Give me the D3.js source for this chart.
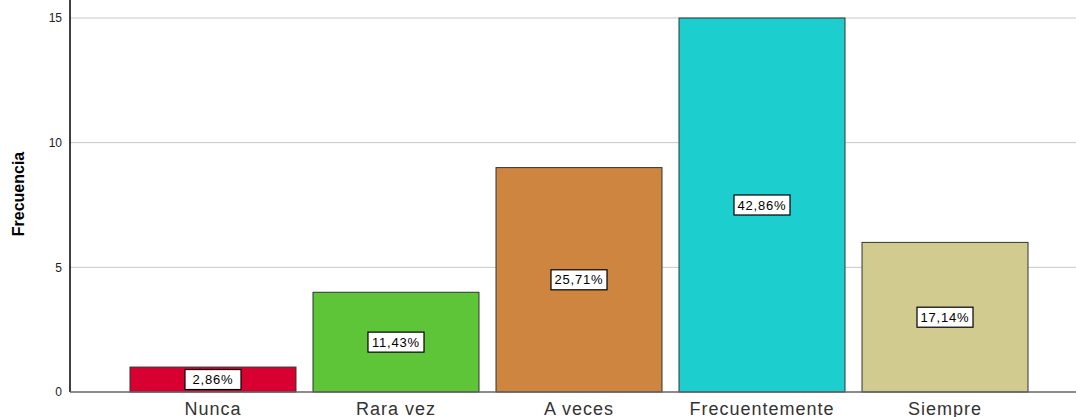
<!DOCTYPE html>
<html>
<head>
<meta charset="utf-8">
<script src="https://cdn.jsdelivr.net/npm/d3@7"></script>
<style>
  body { margin: 0; background: #fff; }
  text { font-family: "Liberation Sans", Arial, sans-serif; }
</style>
</head>
<body>
<div id="chart"></div>
<script>
// datos
const categorias = ["Nunca", "Rara vez", "A veces", "Frecuentemente", "Siempre"];
const frecuencias = [1, 4, 9, 15, 6];
const colores = ["#d70030", "#5ec438", "#cd853f", "#1dcece", "#d1cb8f"];
const yTicks = [0, 5, 10, 15];

const width = 1076, height = 417;
const total = d3.sum(frecuencias);

const svg = d3.select("#chart").append("svg")
    .attr("width", width)
    .attr("height", height);

const x = d3.scaleBand()
    .domain(categorias)
    .range([130, 1028])
    .paddingInner(0.093)
    .paddingOuter(0);

const y = d3.scaleLinear()
    .domain([0, 15])
    .range([392, 18]);

// lineas de cuadricula
svg.append("g")
    .selectAll("line")
    .data(yTicks.filter(d => d > 0))
    .join("line")
    .attr("x1", 70).attr("x2", width)
    .attr("y1", d => y(d)).attr("y2", d => y(d))
    .attr("stroke", "#c8c8c8")
    .attr("stroke-width", 1);

// barras
svg.append("g")
    .selectAll("rect")
    .data(categorias)
    .join("rect")
    .attr("x", d => x(d))
    .attr("y", (d, i) => y(frecuencias[i]))
    .attr("width", x.bandwidth())
    .attr("height", (d, i) => y(0) - y(frecuencias[i]))
    .attr("fill", (d, i) => colores[i])
    .attr("stroke", "#333")
    .attr("stroke-width", 1);

// etiquetas de porcentaje
const fmt = v => d3.format(".2f")(v).replace(".", ",") + "%";
const etiquetas = svg.append("g")
    .selectAll("g")
    .data(categorias)
    .join("g")
    .attr("transform", (d, i) => `translate(${x(d) + x.bandwidth() / 2},${(y(0) + y(frecuencias[i])) / 2})`);

etiquetas.each(function (d, i) {
    const g = d3.select(this);
    g.append("rect")
        .attr("x", -28)
        .attr("y", -10)
        .attr("width", 56)
        .attr("height", 20)
        .attr("fill", "#fff")
        .attr("stroke", "#000")
        .attr("stroke-width", 1.2);
    g.append("text")
        .attr("text-anchor", "middle")
        .attr("dy", "0.36em")
        .attr("font-size", 13)
        .attr("letter-spacing", 0.8)
        .attr("fill", "#000")
        .text(fmt(frecuencias[i] / total * 100));
});

// eje Y
svg.append("line")
    .attr("x1", 70).attr("x2", 70)
    .attr("y1", 0).attr("y2", 392)
    .attr("stroke", "#000")
    .attr("stroke-width", 1.5);

svg.append("g")
    .selectAll("text")
    .data(yTicks)
    .join("text")
    .attr("x", 62)
    .attr("y", d => y(d))
    .attr("dy", "0.35em")
    .attr("text-anchor", "end")
    .attr("font-size", 12)
    .attr("fill", "#222")
    .text(d => d);

// eje X
svg.append("line")
    .attr("x1", 70).attr("x2", width)
    .attr("y1", 392).attr("y2", 392)
    .attr("stroke", "#666")
    .attr("stroke-width", 1.5);

svg.append("g")
    .selectAll("text")
    .data(categorias)
    .join("text")
    .attr("x", d => x(d) + x.bandwidth() / 2)
    .attr("y", 415)
    .attr("text-anchor", "middle")
    .attr("font-size", 18)
    .attr("letter-spacing", 1)
    .attr("fill", "#333")
    .text(d => d);

svg.append("text")
    .attr("transform", "translate(24,194) rotate(-90)")
    .attr("text-anchor", "middle")
    .attr("font-size", 16)
    .attr("font-weight", "bold")
    .attr("fill", "#000")
    .text("Frecuencia");
</script>
</body>
</html>
